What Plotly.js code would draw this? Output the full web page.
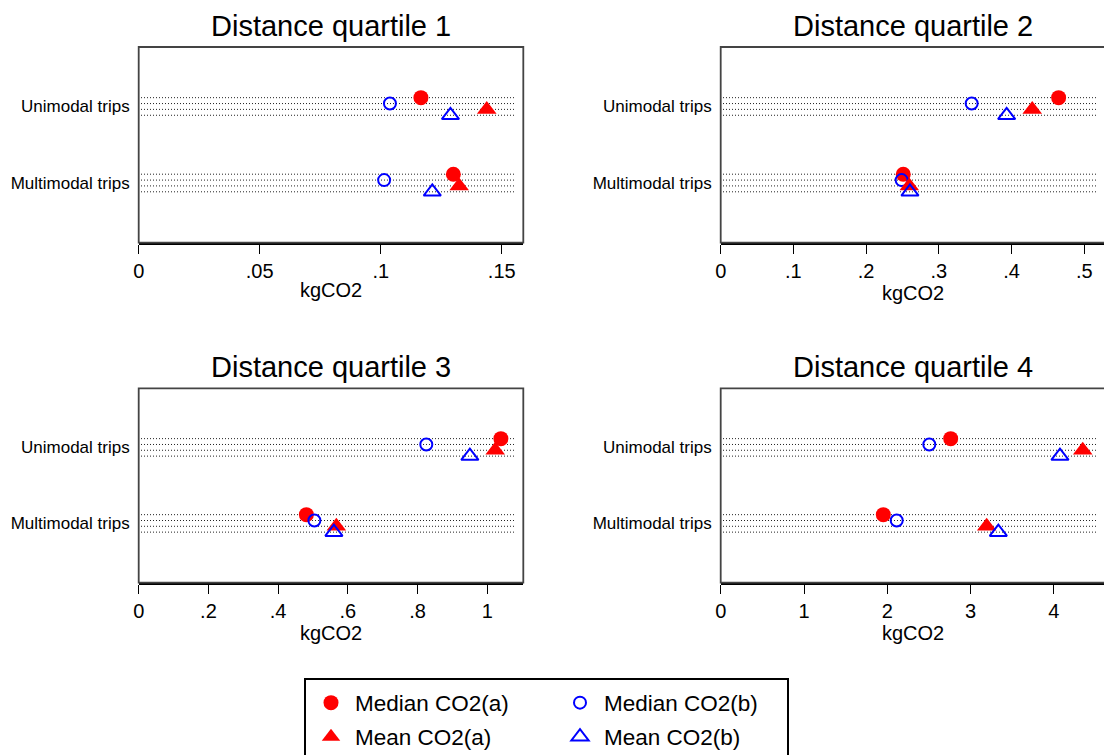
<!DOCTYPE html>
<html><head><meta charset="utf-8">
<script src="https://cdn.plot.ly/plotly-3.0.1.min.js"></script>
<style>html,body{margin:0;padding:0;overflow:hidden;background:#fff}#chart{width:1106px;height:755px}</style>
</head><body><div id="chart"></div><script>
// ---------- data ----------
const panelTitles = ["Distance quartile 1", "Distance quartile 2", "Distance quartile 3", "Distance quartile 4"];
const categories = ["Unimodal trips", "Multimodal trips"];
const seriesNames = ["Median CO2(a)", "Median CO2(b)", "Mean CO2(a)", "Mean CO2(b)"];
// each entry: [Unimodal, Multimodal] per panel
const medianA = [[0.1166, 0.130], [0.4648, 0.2511], [1.039, 0.481], [2.761, 1.952]];
const medianB = [[0.1038, 0.1014], [0.3452, 0.2489], [0.825, 0.504], [2.504, 2.113]];
const meanA   = [[0.1438, 0.1324], [0.4285, 0.2594], [1.0227, 0.567], [4.346, 3.193]];
const meanB   = [[0.1288, 0.1213], [0.3933, 0.2603], [0.950, 0.560], [4.073, 3.333]];
const tickVals = [[0, 0.05, 0.1, 0.15], [0, 0.1, 0.2, 0.3, 0.4, 0.5], [0, 0.2, 0.4, 0.6, 0.8, 1], [0, 1, 2, 3, 4]];
const tickText = [["0", ".05", ".1", ".15"], ["0", ".1", ".2", ".3", ".4", ".5"], ["0", ".2", ".4", ".6", ".8", "1"], ["0", "1", "2", "3", "4"]];
const xMax = [0.1589, 0.529, 1.1033, 4.617];
const xTitle = "kgCO2";

// ---------- styling / layout ----------
const W = 1106, H = 755;
const FONT = "Liberation Sans, Arial, sans-serif";
const seriesData = [medianA, medianB, meanA, meanB];
const seriesStyle = [
  {symbol: "circle", color: "#ff0000", size: 15, lw: 0},
  {symbol: "circle-open", color: "#0000ff", size: 12, lw: 2},
  {symbol: "triangle-up", color: "#ff0000", size: 17, lw: 0},
  {symbol: "triangle-up-open", color: "#0000ff", size: 15, lw: 2}
];
const rowOffset = [-0.115, -0.038, 0.038, 0.115];
const legendIds = ["legend", "legend2", "legend3", "legend4"];
// pixel geometry of panels
const colPx = [[138.7, 523.3], [720.7, 1105.3]];
const rowPx = [[47, 242.7], [388.3, 582.7]];

const traces = [];
const shapes = [];
const annotations = [];
const layout = {
  width: W, height: H,
  margin: {l: 0, r: 0, t: 0, b: 0, autoexpand: false},
  paper_bgcolor: "#fff", plot_bgcolor: "#fff",
  font: {family: FONT, color: "#000"},
  showlegend: true,
  shapes: shapes, annotations: annotations
};

for (let p = 0; p < 4; p++) {
  const c = p % 2, r = Math.floor(p / 2);
  const sfx = p === 0 ? "" : String(p + 1);
  const xa = "x" + sfx, ya = "y" + sfx;
  const xd = [colPx[c][0] / W, colPx[c][1] / W];
  const yd = [1 - rowPx[r][1] / H, 1 - rowPx[r][0] / H];
  layout["xaxis" + sfx] = {
    domain: xd, anchor: ya, range: [0, xMax[p]],
    tickmode: "array", tickvals: tickVals[p], ticktext: tickText[p],
    ticks: "outside", ticklen: 9, tickwidth: 1, tickcolor: "#000",
    tickfont: {family: FONT, size: 20, color: "#000"},
    showline: true, linecolor: "#000", linewidth: 2.5,
    showgrid: false, zeroline: false, fixedrange: true, automargin: true,
    title: {text: xTitle, font: {family: FONT, size: 20, color: "#000"}, standoff: 2}
  };
  layout["yaxis" + sfx] = {
    domain: yd, anchor: xa, range: [1.78, -0.777],
    tickmode: "array", tickvals: [0, 1], ticktext: categories,
    ticks: "", ticklabelstandoff: 8,
    tickfont: {family: FONT, size: 17, color: "#000"},
    showline: false, showgrid: false, zeroline: false, fixedrange: true, automargin: true
  };
  // dotted guide lines
  for (let k = 0; k < categories.length; k++) {
    for (let s = 0; s < 4; s++) {
      shapes.push({type: "line", xref: xa + " domain", yref: ya,
        x0: 0.006, x1: 0.978, y0: k + rowOffset[s], y1: k + rowOffset[s],
        line: {color: "#222", width: 1, dash: "1px,2px"}, layer: "below"});
    }
  }
  // frame
  shapes.push({type: "rect", xref: xa + " domain", yref: ya + " domain", x0: 0, x1: 1, y0: 0, y1: 1,
    line: {color: "#444", width: 1.8}, layer: "above"});
  // panel title
  annotations.push({text: panelTitles[p], xref: "paper", yref: "paper",
    x: (xd[0] + xd[1]) / 2, y: yd[1] + 21 / H, xanchor: "center", yanchor: "middle",
    showarrow: false, font: {family: FONT, size: 29, color: "#000"}});
  // markers
  for (let s = 0; s < 4; s++) {
    const st = seriesStyle[s];
    traces.push({
      type: "scatter", mode: "markers", name: seriesNames[s],
      x: seriesData[s][p], y: categories.map((_, k) => k + rowOffset[s]),
      xaxis: xa, yaxis: ya,
      legend: legendIds[s], showlegend: p === 0,
      marker: {symbol: st.symbol, color: st.color, size: st.size, line: {color: st.color, width: st.lw}},
      hoverinfo: "x"
    });
  }
}

// legend: 2 columns x 2 rows, each entry its own legend box
const legPos = [[307, 703], [556, 703], [307, 737], [556, 737]];
for (let s = 0; s < 4; s++) {
  layout[legendIds[s]] = {
    x: legPos[s][0] / W, y: 1 - legPos[s][1] / H, xanchor: "left", yanchor: "middle",
    xref: "paper", yref: "paper",
    bgcolor: "rgba(0,0,0,0)", borderwidth: 0, itemwidth: 38,
    font: {family: FONT, size: 22.5, color: "#000"}, itemclick: false, itemdoubleclick: false
  };
}
// legend outer box
shapes.push({type: "rect", xref: "paper", yref: "paper", x0: 305 / W, x1: 788 / W, y0: -0.05, y1: 1 - 679 / H,
  line: {color: "#000", width: 2}, layer: "above"});

Plotly.newPlot("chart", traces, layout, {displayModeBar: false, staticPlot: true});
</script></body></html>
